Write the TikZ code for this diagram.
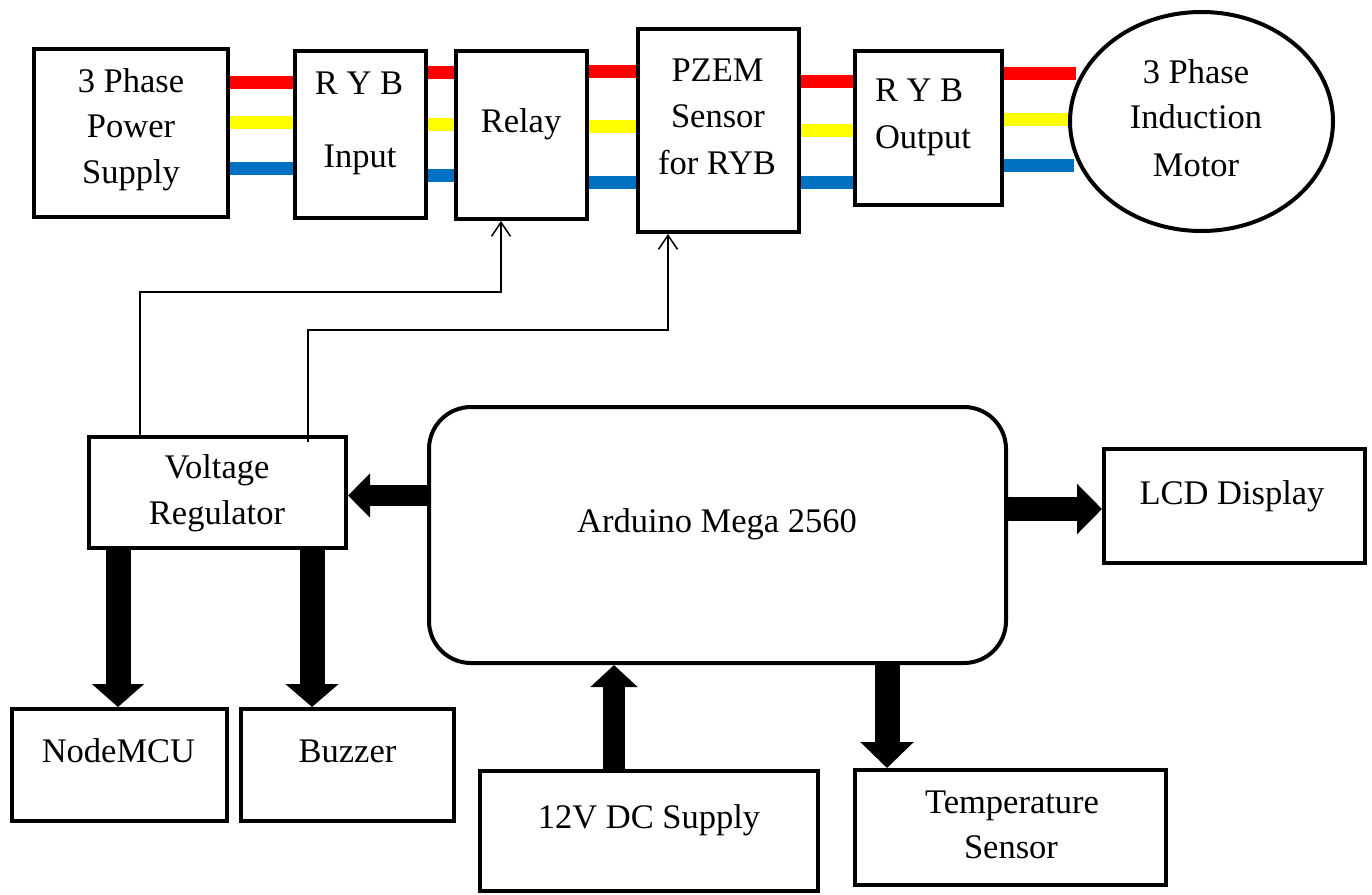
\documentclass[tikz,border=0pt]{standalone}
\usepackage{fontspec}
\setmainfont{Liberation Serif}
\usetikzlibrary{arrows.meta,shapes.geometric,calc}
\definecolor{wR}{RGB}{255,0,0}
\definecolor{wY}{RGB}{255,255,0}
\definecolor{wB}{RGB}{0,112,192}
\pgfdeclarelayer{bg}
\pgfsetlayers{bg,main}
\begin{document}
\begin{tikzpicture}[x=1pt,y=-1pt,
  box/.style={draw, line width=4pt, rectangle, inner sep=0pt, outer sep=2pt},
  lbl/.style={anchor=base, inner sep=0pt, outer sep=0pt, font=\fontsize{34.5}{40}\selectfont},
  wire/.style={line width=13pt},
  ctl/.style={line width=1.5pt, -{Straight Barb[length=14pt,width=19pt,line width=1.5pt]}},
  bigarr/.style n args={3}{line width=#1, -{Triangle[width=#2,length=#3]}},
]
\useasboundingbox (0,0) rectangle (1372,894);
\begin{pgfonlayer}{bg}
\fill[white] (0,0) rectangle (1372,894);
\end{pgfonlayer}

% top row boxes
\node[box, minimum width=194pt, minimum height=168pt] (ps) at (131,133) {};
\node[box, minimum width=131pt, minimum height=167pt] (rin) at (360.5,134.5) {};
\node[box, minimum width=131pt, minimum height=168pt] (relay) at (521.5,135) {};
\node[box, minimum width=161pt, minimum height=203pt] (pzem) at (718.5,130.5) {};
\node[box, minimum width=147pt, minimum height=154pt] (rout) at (928.5,128) {};
\node[draw, ellipse, line width=4pt, inner sep=0pt, outer sep=2pt, minimum width=263pt, minimum height=219pt] (mot) at (1201.5,121.5) {};

% lower boxes
\node[box, minimum width=257pt, minimum height=111pt] (vr) at (217.5,492.5) {};
\node[box, rounded corners=42pt, minimum width=577pt, minimum height=256pt] (ard) at (717.5,535) {};
\node[box, minimum width=261pt, minimum height=114pt] (lcd) at (1234.5,506) {};
\node[box, minimum width=215pt, minimum height=112pt] (nmcu) at (119.5,765) {};
\node[box, minimum width=213pt, minimum height=112pt] (buzz) at (347.5,765) {};
\node[box, minimum width=338pt, minimum height=120pt] (dc) at (649,831) {};
\node[box, minimum width=311pt, minimum height=115pt] (temp) at (1010.5,827.5) {};

% labels
\node[lbl] (psA) at (131,92) {3 Phase};
\node[lbl] (psB) at (131,137) {Power};
\node[lbl] (psC) at (131,183) {Supply};
\node[lbl] (rinA) at (359,94) {R Y B};
\node[lbl] (rinB) at (360,167) {Input};
\node[lbl] (relayA) at (521,132) {Relay};
\node[lbl] (pzemA) at (717.5,81) {PZEM};
\node[lbl] (pzemB) at (718,127) {Sensor};
\node[lbl] (pzemC) at (717,174) {for RYB};
\node[lbl, anchor=base west] (routA) at (875,101) {R Y B};
\node[lbl, anchor=base west] (routB) at (875,148) {Output};
\node[lbl] (motA) at (1196,83) {3 Phase};
\node[lbl] (motB) at (1196,128) {Induction};
\node[lbl] (motC) at (1196,176) {Motor};
\node[lbl] (vrA) at (217,478) {Voltage};
\node[lbl] (vrB) at (217,524) {Regulator};
\node[lbl] (ardA) at (717,532) {Arduino Mega 2560};
\node[lbl] (lcdA) at (1232,504) {LCD Display};
\node[lbl] (nmcuA) at (118.5,762) {NodeMCU};
\node[lbl] (buzzA) at (347.5,762) {Buzzer};
\node[lbl] (dcA) at (649,828) {12V DC Supply};
\node[lbl] (tempA) at (1012,813) {Temperature};
\node[lbl] (tempB) at (1011,858) {Sensor};

% three-phase wires
\begin{pgfonlayer}{bg}
\draw[wire, wR] (ps.east |- 0,82) -- (rin.west |- 0,82);
\draw[wire, wY] (ps.east |- 0,122) -- (rin.west |- 0,122);
\draw[wire, wB] (ps.east |- 0,168) -- (rin.west |- 0,168);
\draw[wire, wR] (rin.east |- 0,72) -- (relay.west |- 0,72);
\draw[wire, wY] (rin.east |- 0,124) -- (relay.west |- 0,124);
\draw[wire, wB] (rin.east |- 0,175) -- (relay.west |- 0,175);
\draw[wire, wR] (relay.east |- 0,71) -- (pzem.west |- 0,71);
\draw[wire, wY] (relay.east |- 0,126) -- (pzem.west |- 0,126);
\draw[wire, wB] (relay.east |- 0,182) -- (pzem.west |- 0,182);
\draw[wire, wR] (pzem.east |- 0,81) -- (rout.west |- 0,81);
\draw[wire, wY] (pzem.east |- 0,130) -- (rout.west |- 0,130);
\draw[wire, wB] (pzem.east |- 0,182) -- (rout.west |- 0,182);
\draw[wire, wR] (rout.east |- 0,73) -- ([xshift=8pt]mot.west |- 0,73);
\draw[wire, wY] (rout.east |- 0,119) -- ([xshift=1pt]mot.west |- 0,119);
\draw[wire, wB] (rout.east |- 0,165) -- ([xshift=6pt]mot.west |- 0,165);
\end{pgfonlayer}

% control lines
\coordinate (k1) at (140,292);
\coordinate (k2) at (308,330);
\coordinate (k2s) at (308,442);
\draw[ctl] (vr.north -| k1) -- (k1) -| ([xshift=-20.5pt]relay.south);
\draw[ctl] (k2s) -- (k2) -| ([xshift=-50.5pt]pzem.south);

% thick arrows
\draw[bigarr={21pt}{43pt}{22pt}] (ard.west |- 0,495.5) -- (vr.east |- 0,495.5);
\draw[bigarr={24pt}{49pt}{25pt}] (ard.east |- 0,509) -- (lcd.west |- 0,509);
\draw[bigarr={25pt}{51pt}{23pt}] (vr.south -| 118,0) -- (nmcu.north -| 118,0);
\draw[bigarr={25pt}{52pt}{23pt}] (vr.south -| 312,0) -- (buzz.north -| 312,0);
\draw[bigarr={22pt}{46pt}{22pt}] (dc.north -| 614,0) -- (ard.south -| 614,0);
\draw[bigarr={25pt}{52pt}{26pt}] (ard.south -| 887,0) -- (temp.north -| 887,0);
\end{tikzpicture}
\end{document}
